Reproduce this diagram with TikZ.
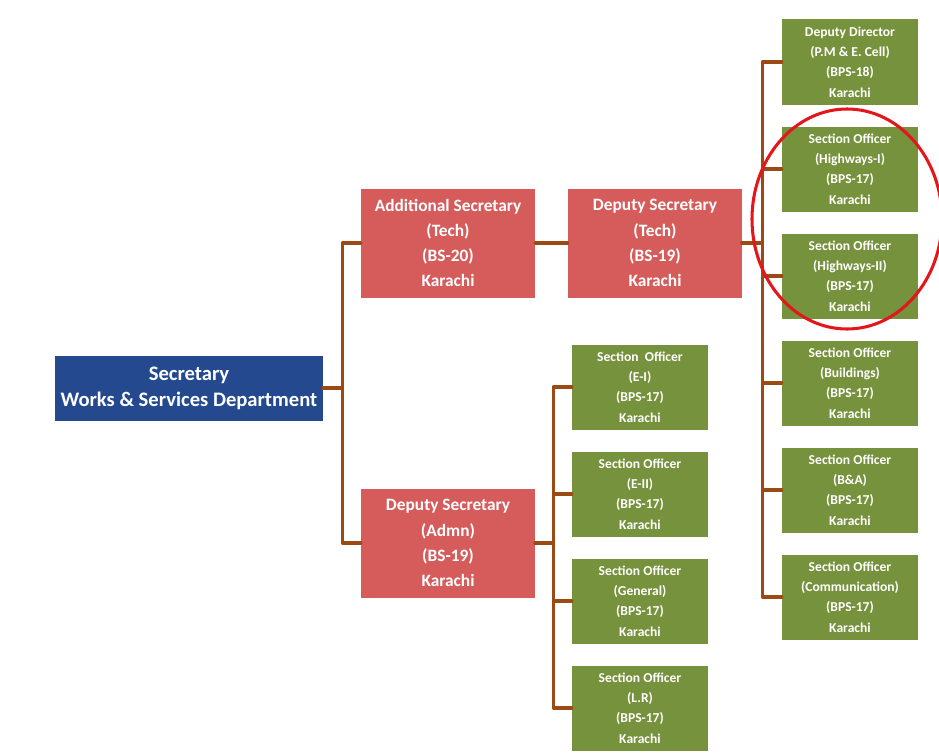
\documentclass[tikz,border=0pt]{standalone}
\usepackage{fontspec}
\setmainfont{Carlito}
\definecolor{secblue}{HTML}{24498F}
\definecolor{boxred}{HTML}{D65C5C}
\definecolor{boxgreen}{HTML}{76923C}
\definecolor{linkbrown}{HTML}{9C4A14}
\definecolor{markred}{HTML}{E3161C}
\tikzset{
	secbox/.style={fill=secblue, text=white, font=\fontsize{17.6}{22}\selectfont\bfseries, align=center, minimum width=8.04cm, minimum height=1.95cm, inner sep=0pt},
	redbox/.style={fill=boxred, text=white, font=\fontsize{14.8}{21.5}\selectfont\bfseries, align=center, minimum width=5.22cm, minimum height=3.27cm, inner sep=0pt},
	greenbox/.style={fill=boxgreen, text=white, font=\fontsize{11.6}{17.4}\selectfont\bfseries, align=center, minimum width=4.08cm, minimum height=2.55cm, inner sep=0pt},
	link/.style={draw=linkbrown, line width=2.6pt}
}
\begin{document}
\begin{tikzpicture}[x=0.03cm, y=-0.03cm, line cap=round, line join=round]
	\useasboundingbox (0, 0) rectangle (939, 753);
	
	% top and second level
	\node[secbox] (sec) at (189, 388) {Secretary\\Works \& Services Department};
	\node[redbox] (addsec) at (448, 243) {Additional Secretary\\(Tech)\\(BS-20)\\Karachi};
	\node[redbox] (dstech) at (655, 243) {Deputy Secretary\\(Tech)\\(BS-19)\\Karachi};
	\node[redbox] (dsadmn) at (448, 543) {Deputy Secretary\\(Admn)\\(BS-19)\\Karachi};
	
	% tech wing
	\node[greenbox] (dd) at (850, 62) {Deputy Director\\(P.M \& E. Cell)\\(BPS-18)\\Karachi};
	\node[greenbox] (sohwone) at (850, 169) {Section Officer\\(Highways-I)\\(BPS-17)\\Karachi};
	\node[greenbox] (sohwtwo) at (850, 276) {Section Officer\\(Highways-II)\\(BPS-17)\\Karachi};
	\node[greenbox] (sobuild) at (850, 383) {Section Officer\\(Buildings)\\(BPS-17)\\Karachi};
	\node[greenbox] (soba) at (850, 490) {Section Officer\\(B\&A)\\(BPS-17)\\Karachi};
	\node[greenbox] (socomm) at (850, 597) {Section Officer\\(Communication)\\(BPS-17)\\Karachi};
	
	% admn wing
	\node[greenbox] (soeone) at (640, 387) {Section~ Officer\\(E-I)\\(BPS-17)\\Karachi};
	\node[greenbox] (soetwo) at (640, 494) {Section Officer\\(E-II)\\(BPS-17)\\Karachi};
	\node[greenbox] (sogen) at (640, 601) {Section Officer\\(General)\\(BPS-17)\\Karachi};
	\node[greenbox] (solr) at (640, 708) {Section Officer\\(L.R)\\(BPS-17)\\Karachi};
	
	\draw[link] (sec.east) -- +(19, 0) |- (addsec.west);
	\draw[link] (sec.east) -- +(19, 0) |- (dsadmn.west);
	\draw[link] (addsec.east) -- (dstech.west);
	\foreach \n in {dd, sohwone, sohwtwo, sobuild, soba, socomm}
		\draw[link] (dstech.east) -- +(20, 0) |- (\n.west);
	\foreach \n in {soeone, soetwo, sogen, solr}
		\draw[link] (dsadmn.east) -- +(18, 0) |- (\n.west);
	
	\draw[markred, line width=2.6pt] (847, 219) ellipse [x radius=2.85cm, y radius=3.3cm];
\end{tikzpicture}
\end{document}
